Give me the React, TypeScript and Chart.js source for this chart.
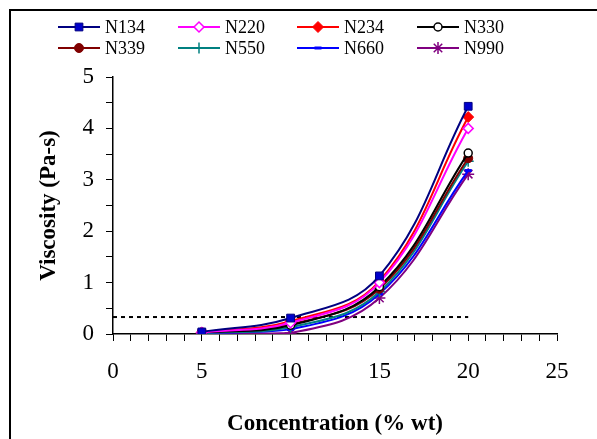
import React, { useEffect, useRef } from 'react';
import { Chart, registerables } from 'chart.js';
import { drawPoint } from 'chart.js/helpers';

Chart.register(...registerables);

// ---- data ----
const concentrations = [5, 10, 15, 20];
const seriesNames = ['N134', 'N220', 'N234', 'N330', 'N339', 'N550', 'N660', 'N990'];
const n134 = [0.04, 0.31, 1.13, 4.43];
const n220 = [0.03, 0.22, 1.0, 4.0];
const n234 = [0.03, 0.25, 1.03, 4.22];
const n330 = [0.03, 0.17, 0.92, 3.52];
const n339 = [0.03, 0.19, 0.88, 3.42];
const n550 = [0.02, 0.13, 0.82, 3.36];
const n660 = [0.02, 0.09, 0.78, 3.18];
const n990 = [0.01, 0.02, 0.7, 3.11];
const seriesValues = [n134, n220, n234, n330, n339, n550, n660, n990];
const thresholdX = [0, 20];
const thresholdValue = 0.33;
const xMajorTicks = [0, 5, 10, 15, 20, 25];
const yMajorTicks = [0, 1, 2, 3, 4, 5];

// ---- styles ----
const seriesStyles = [
  { line: '#000080', fill: '#0000CC', point: 'rect', radius: 5.5, bw: 1 },
  { line: '#FF00FF', fill: '#FFFFFF', point: 'rectRot', radius: 5, bw: 1.5 },
  { line: '#FF0000', fill: '#FF0000', point: 'rectRot', radius: 5.5, bw: 1 },
  { line: '#000000', fill: '#FFFFFF', point: 'circle', radius: 4, bw: 1.5 },
  { line: '#800000', fill: '#800000', point: 'circle', radius: 4.5, bw: 1 },
  { line: '#008080', fill: '#008080', point: 'cross', radius: 5.5, bw: 1.5 },
  { line: '#0000FF', fill: '#0000FF', point: 'line', radius: 3.5, bw: 3 },
  { line: '#800080', fill: '#800080', point: 'star', radius: 6, bw: 1.5 },
];

const SERIF = "'Liberation Serif', 'Times New Roman', serif";

const legendPlugin = {
  id: 'customLegend',
  afterDraw(chart: any) {
    const ctx = chart.ctx;
    ctx.save();
    // outer frame
    ctx.strokeStyle = '#000';
    ctx.lineWidth = 2;
    ctx.strokeRect(10, 10, 800, 800);
    const cols = [58, 178, 297, 417];
    const rows = [27, 48];
    ctx.font = `18px ${SERIF}`;
    ctx.textBaseline = 'middle';
    ctx.textAlign = 'left';
    seriesNames.forEach((name, i) => {
      const st = seriesStyles[i];
      const x0 = cols[i % 4];
      const y = rows[Math.floor(i / 4)];
      ctx.strokeStyle = st.line;
      ctx.lineWidth = 2;
      ctx.beginPath();
      ctx.moveTo(x0, y);
      ctx.lineTo(x0 + 42, y);
      ctx.stroke();
      ctx.fillStyle = st.fill;
      ctx.strokeStyle = st.line;
      ctx.lineWidth = st.bw;
      drawPoint(ctx, { pointStyle: st.point, rotation: 0, radius: st.radius, borderWidth: st.bw }, x0 + 21, y);
      ctx.fillStyle = '#000';
      ctx.fillText(name, x0 + 47, y + 1);
    });
    ctx.restore();
  },
};

export default function App() {
  const ref = useRef<HTMLCanvasElement>(null);
  useEffect(() => {
    if (!ref.current) return;
    const datasets: any[] = seriesNames.map((name, i) => ({
      label: name,
      data: concentrations.map((c, j) => ({ x: c, y: seriesValues[i][j] })),
      borderColor: seriesStyles[i].line,
      backgroundColor: seriesStyles[i].fill,
      pointBackgroundColor: seriesStyles[i].fill,
      pointBorderColor: seriesStyles[i].line,
      pointStyle: seriesStyles[i].point,
      pointRadius: seriesStyles[i].radius,
      pointBorderWidth: seriesStyles[i].bw,
      borderWidth: 2,
      tension: 0.4,
      fill: false,
    }));
    datasets.push({
      label: 'threshold',
      data: thresholdX.map((x) => ({ x, y: thresholdValue })),
      borderColor: '#000',
      borderWidth: 2,
      borderDash: [4, 4],
      pointRadius: 0,
      fill: false,
    });
    const chart = new Chart(ref.current, {
      type: 'scatter',
      data: { datasets },
      plugins: [legendPlugin],
      options: {
        responsive: false,
        animation: false,
        showLine: true,
        layout: { padding: { top: 77, right: 40, left: 0, bottom: 0 } },
        plugins: { legend: { display: false }, tooltip: { enabled: false } },
        scales: {
          x: {
            type: 'linear',
            min: 0,
            max: 25,
            afterFit: (s: any) => { s.height = 105; },
            afterBuildTicks: (s: any) => {
              const t = [];
              for (let v = 0; v <= 25; v += 1) t.push({ value: v });
              s.ticks = t;
            },
            ticks: {
              autoSkip: false,
              maxRotation: 0,
              color: '#000',
              padding: 17,
              font: { family: SERIF, size: 23 },
              callback: (v: any) => (xMajorTicks.includes(v) ? String(v) : ''),
            },
            grid: { drawOnChartArea: false, tickLength: 7, color: '#000', tickColor: '#000', lineWidth: 1 },
            border: { color: '#000', width: 1.5 },
            title: {
              display: true,
              text: 'Concentration (% wt)',
              color: '#000',
              font: { family: SERIF, size: 23, weight: 'bold' },
              padding: { top: 0, bottom: 1 },
            },
          },
          y: {
            type: 'linear',
            min: 0,
            max: 5,
            afterFit: (s: any) => { s.width = 113; },
            afterBuildTicks: (s: any) => {
              const t = [];
              for (let k = 0; k <= 10; k += 1) t.push({ value: k / 2 });
              s.ticks = t;
            },
            ticks: {
              autoSkip: false,
              color: '#000',
              padding: 12,
              font: { family: SERIF, size: 23 },
              callback: (v: any) => (yMajorTicks.includes(v) ? String(v) : ''),
            },
            grid: { drawOnChartArea: false, tickLength: 7, color: '#000', tickColor: '#000', lineWidth: 1 },
            border: { color: '#000', width: 1.5 },
            title: {
              display: true,
              text: 'Viscosity (Pa-s)',
              color: '#000',
              font: { family: SERIF, size: 23, weight: 'bold' },
              padding: { top: 35, bottom: 0 },
            },
          },
        },
      } as any,
    });
    return () => chart.destroy();
  }, []);
  return (
    <div style={{ position: 'fixed', left: 0, top: 0, width: 597, height: 439, background: '#fff' }}>
      <canvas ref={ref} width={597} height={439} style={{ display: 'block', width: 597, height: 439 }} />
    </div>
  );
}
